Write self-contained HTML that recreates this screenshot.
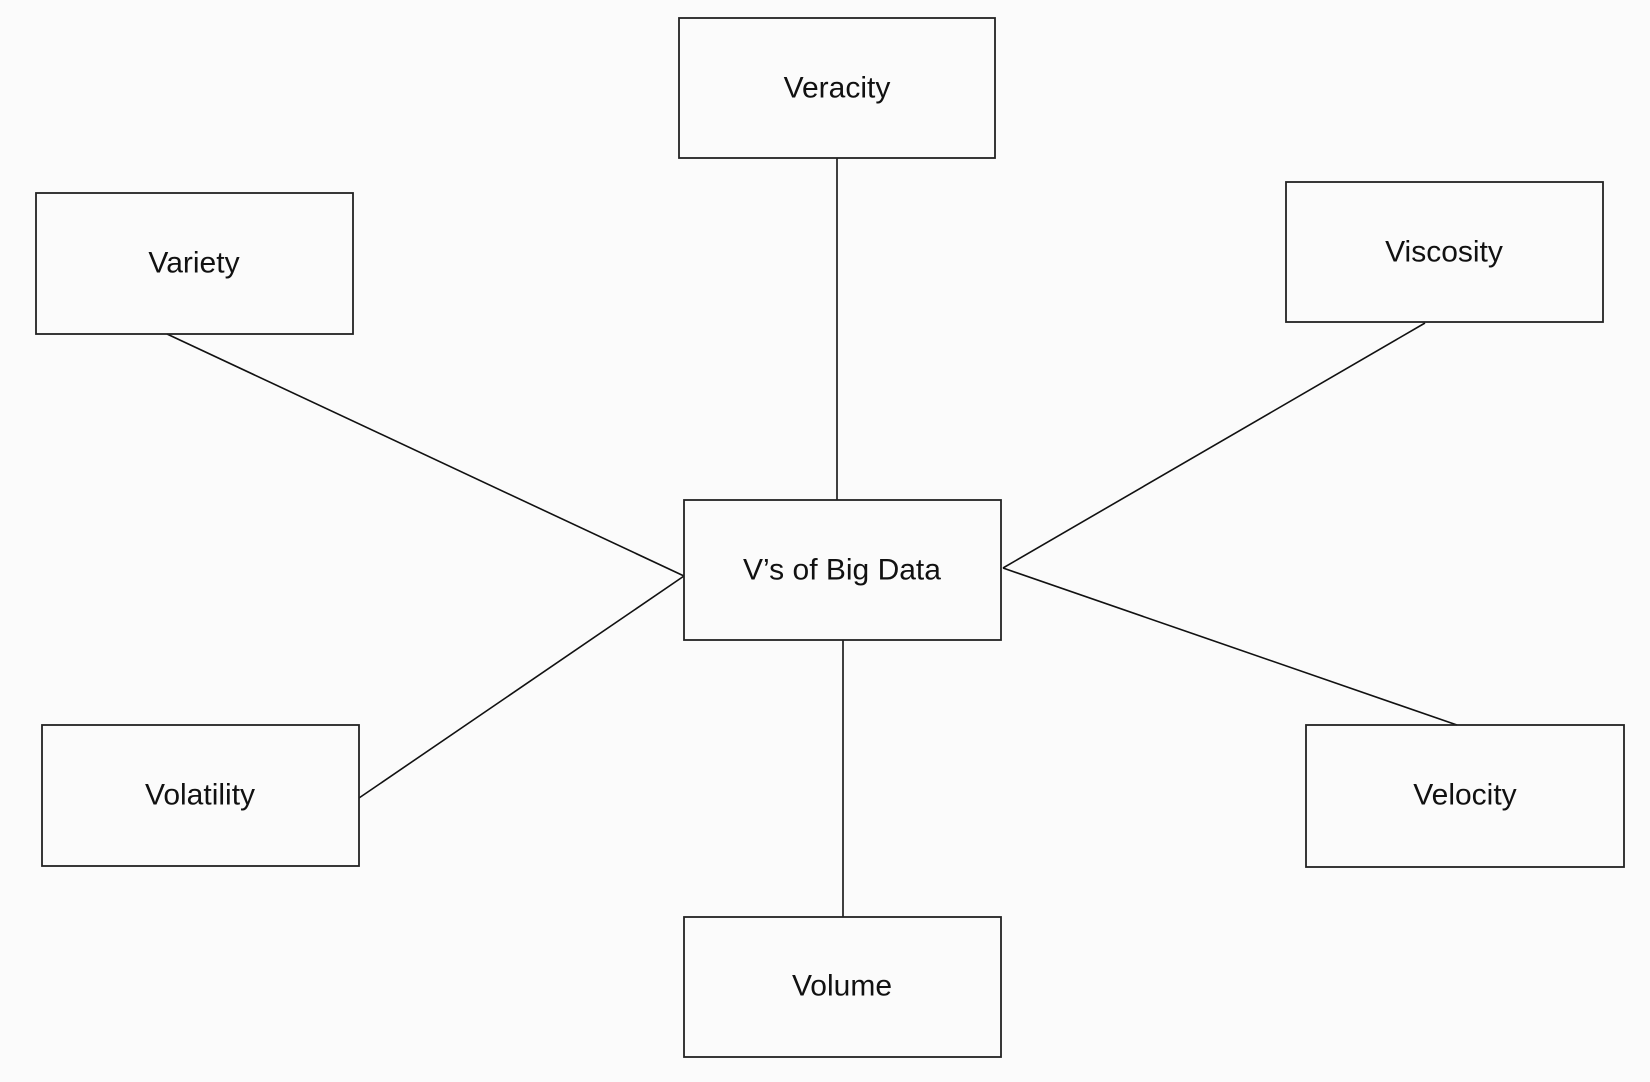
<!DOCTYPE html>
<html><head><style>
html,body{margin:0;padding:0;background:#fbfbfb;}
svg{display:block;}
text{font-family:"Liberation Sans",sans-serif;font-size:30px;fill:#111;text-anchor:middle;dominant-baseline:central;}
rect{fill:none;stroke:#222;stroke-width:1.8;}
line{stroke:#111;stroke-width:1.6;}
</style></head><body>
<svg width="1650" height="1082" viewBox="0 0 1650 1082">
<line x1="837" y1="158" x2="837" y2="500"/>
<line x1="167" y1="334" x2="684" y2="576"/>
<line x1="1425" y1="323" x2="1003" y2="568"/>
<line x1="359" y1="798" x2="684" y2="576"/>
<line x1="1003" y1="568" x2="1457" y2="725"/>
<line x1="843" y1="640" x2="843" y2="917"/>
<rect x="679" y="18" width="316" height="140"/><text x="837" y="88">Veracity</text>
<rect x="36" y="193" width="317" height="141"/><text x="194" y="263">Variety</text>
<rect x="1286" y="182" width="317" height="140"/><text x="1444" y="252">Viscosity</text>
<rect x="684" y="500" width="317" height="140"/><text x="842" y="570">V’s of Big Data</text>
<rect x="42" y="725" width="317" height="141"/><text x="200" y="795">Volatility</text>
<rect x="1306" y="725" width="318" height="142"/><text x="1465" y="795">Velocity</text>
<rect x="684" y="917" width="317" height="140"/><text x="842" y="986">Volume</text>
</svg>
</body></html>
